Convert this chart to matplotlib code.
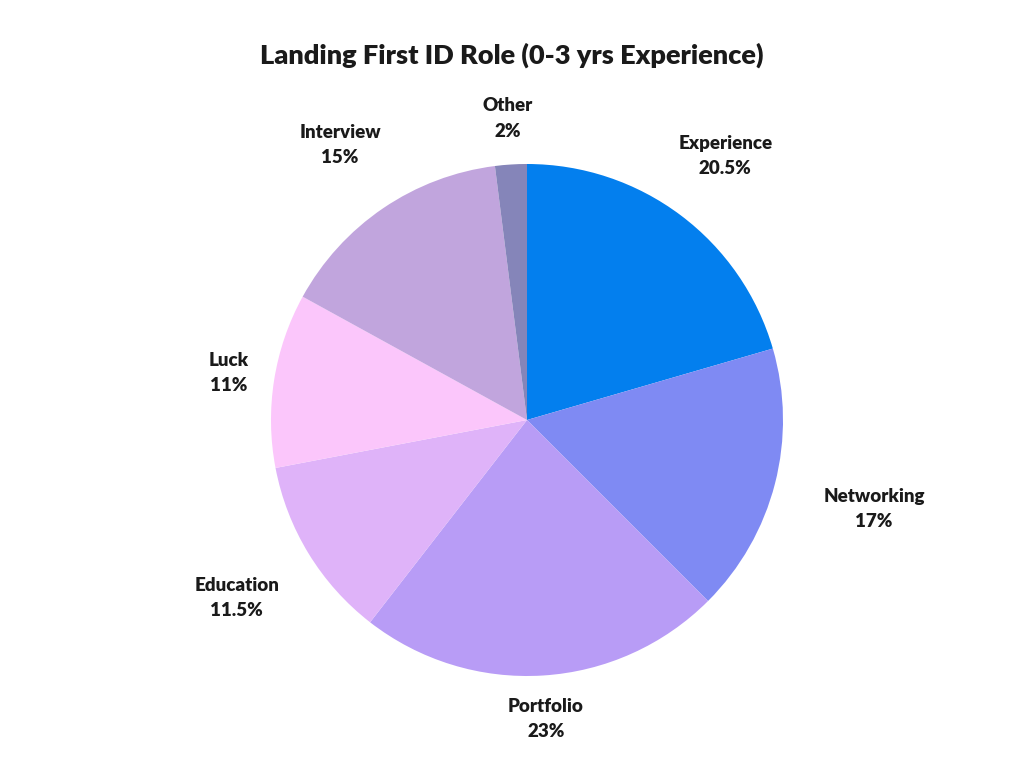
import matplotlib
import matplotlib.pyplot as plt

matplotlib.use('Agg')

# data
labels = ['Experience', 'Networking', 'Portfolio', 'Education', 'Luck', 'Interview', 'Other']
values = [20.5, 17, 23, 11.5, 11, 15, 2]
pct_text = ['20.5%', '17%', '23%', '11.5%', '11%', '15%', '2%']
colors = ['#037FEE', '#7F8AF3', '#B89CF6', '#DFB3F9', '#FBC6FB', '#C1A5DD', '#8585B9']
# how far out each label sits (in pie radii)
label_dist = [1.29, 1.4, 1.17, 1.33, 1.18, 1.3, 1.18]

plt.rcParams['font.family'] = ['Lato', 'DejaVu Sans']

fig = plt.figure(figsize=(10.24, 7.68), dpi=100)
# pie centred at (527, 420) px, radius ~256 px
ax = fig.add_axes([(527 - 256) / 1024, (768 - 420 - 256) / 768, 512 / 1024, 512 / 768])

wedges, texts = ax.pie(values, colors=colors, startangle=90, counterclock=False,
                       labels=[f'{l}\n{p}' for l, p in zip(labels, pct_text)],
                       labeldistance=1.0,
                       textprops=dict(fontsize=13.5, fontweight='heavy', color='#1a1a1a',
                                      ha='center', va='center', linespacing=1.6))
for t, d in zip(texts, label_dist):
    x, y = t.get_position()
    t.set_position((x * d, y * d))
    t.set_ha('center')

ax.set_aspect('equal')
ax.set_xlim(-1, 1)
ax.set_ylim(-1, 1)

fig.text(0.5, 0.928, 'Landing First ID Role (0-3 yrs Experience)',
         ha='center', va='center', fontsize=19.5, fontweight='heavy', color='#1a1a1a')

fig.savefig('out.png', dpi=100)
